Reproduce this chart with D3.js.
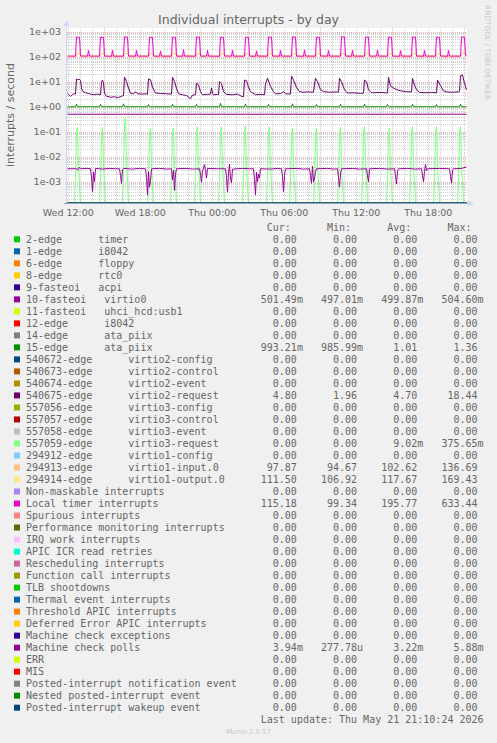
<!DOCTYPE html>
<html><head><meta charset="utf-8">
<script src="https://cdn.jsdelivr.net/npm/d3@7/dist/d3.min.js"></script>
<style>
html,body{margin:0;padding:0;background:#f0f0f0;}
svg{display:block;}
text{font-family:"DejaVu Sans",sans-serif;fill:#666;}
.mono{font-family:"DejaVu Sans Mono",monospace;font-size:10px;white-space:pre;}
</style></head><body>
<svg id="c" width="497" height="743"></svg>
<script>
// ---------- DATA ----------
const title = "Individual interrupts - by day";
const yTitle = "interrupts / second";
const yTickValues = [1e-3, 1e-2, 1e-1, 1, 10, 100, 1000];
const yTickLabels = ["1e-03", "1e-02", "1e-01", "1e+00", "1e+01", "1e+02", "1e+03"];
const xTickTimes = ["2026-05-20T12:00", "2026-05-20T18:00", "2026-05-21T00:00", "2026-05-21T06:00", "2026-05-21T12:00", "2026-05-21T18:00"];
const xTickLabels = ["Wed 12:00", "Wed 18:00", "Thu 00:00", "Thu 06:00", "Thu 12:00", "Thu 18:00"];
const startTime = "2026-05-20T11:56"; // first 5-minute sample
const sampleMinutes = 5;
const sampleCount = 400;

const labels = ["2-edge      timer", "1-edge      i8042", "6-edge      floppy", "8-edge      rtc0", "9-fasteoi   acpi", "10-fasteoi   virtio0", "11-fasteoi   uhci_hcd:usb1", "12-edge      i8042", "14-edge      ata_piix", "15-edge      ata_piix", "540672-edge      virtio2-config", "540673-edge      virtio2-control", "540674-edge      virtio2-event", "540675-edge      virtio2-request", "557056-edge      virtio3-config", "557057-edge      virtio3-control", "557058-edge      virtio3-event", "557059-edge      virtio3-request", "294912-edge      virtio1-config", "294913-edge      virtio1-input.0", "294914-edge      virtio1-output.0", "Non-maskable interrupts", "Local timer interrupts", "Spurious interrupts", "Performance monitoring interrupts", "IRQ work interrupts", "APIC ICR read retries", "Rescheduling interrupts", "Function call interrupts", "TLB shootdowns", "Thermal event interrupts", "Threshold APIC interrupts", "Deferred Error APIC interrupts", "Machine check exceptions", "Machine check polls", "ERR", "MIS", "Posted-interrupt notification event", "Nested posted-interrupt event", "Posted-interrupt wakeup event"];
const colors = ["#00CC00", "#0066B3", "#FF8000", "#FFCC00", "#330099", "#990099", "#CCFF00", "#FF0000", "#808080", "#008F00", "#00487D", "#B35A00", "#B38F00", "#6B006B", "#8FB300", "#B30000", "#BEBEBE", "#80FF80", "#80C9FF", "#FFC080", "#FFE680", "#AA80FF", "#EE00CC", "#FF8080", "#666600", "#FFBFFF", "#00FFCC", "#CC6699", "#999900", "#00CC00", "#0066B3", "#FF8000", "#FFCC00", "#330099", "#990099", "#CCFF00", "#FF0000", "#808080", "#008F00", "#00487D"];
const curVals = [0,0,0,0,0,0.50149,0,0,0,0.99321,0,0,0,4.80,0,0,0,0,0,97.87,111.50,0,115.18,0,0,0,0,0,0,0,0,0,0,0,0.00394,0,0,0,0,0];
const minVals = [0,0,0,0,0,0.49701,0,0,0,0.98599,0,0,0,1.96,0,0,0,0,0,94.67,106.92,0,99.34,0,0,0,0,0,0,0,0,0,0,0,0.00027778,0,0,0,0,0];
const avgVals = [0,0,0,0,0,0.49987,0,0,0,1.01,0,0,0,4.70,0,0,0,0.00902,0,102.62,117.67,0,195.77,0,0,0,0,0,0,0,0,0,0,0,0.00322,0,0,0,0,0];
const maxVals = [0,0,0,0,0,0.50460,0,0,0,1.36,0,0,0,18.44,0,0,0,0.37565,0,136.69,169.43,0,633.44,0,0,0,0,0,0,0,0,0,0,0,0.00588,0,0,0,0,0];
const lastUpdate = "Last update: Thu May 21 21:10:24 2026";

// series values: [sample index (5 min steps from startTime), value]
const flatZero = [[0,0],[399,0]];
const virtio0 = [[0,0.4995],[100,0.5],[200,0.4998],[300,0.5002],[399,0.5015]];
const ataPiix15 = [[0,0.99],[8,0.99],[9,1.28],[10,1.0],[32,0.99],[33,1.25],[34,1.0],[55,0.99],[56,1.3],[57,1.0],[80,0.99],[81,1.22],[82,0.99],[104,0.99],[105,1.25],[106,1.0],[128,0.99],[129,1.24],[130,0.99],[152,0.99],[153,1.36],[154,1.0],[177,0.99],[178,1.26],[179,0.99],[200,0.99],[201,1.24],[202,1.0],[224,0.99],[225,1.3],[226,0.99],[248,0.99],[249,1.22],[250,1.0],[272,0.99],[273,1.25],[274,0.99],[296,0.99],[297,1.28],[298,1.0],[319,0.99],[320,1.24],[321,0.99],[344,0.99],[345,1.25],[346,1.0],[368,0.99],[369,1.22],[370,0.99],[392,0.99],[393,1.26],[394,1.0],[399,0.993]];
const virtio2Request = [[0,3.4],[3,2.6],[6,3.3],[8,3.2],[9,13],[10,12],[12,12.5],[13,11],[14,5.6],[15,4.2],[18,3.6],[22,3.3],[26,3.0],[30,3.2],[33,3.0],[34,10],[35,11.6],[36,9],[37,3.5],[39,2.6],[43,2.4],[47,2.5],[50,2.3],[54,2.6],[56,2.8],[57,15],[58,13],[59,10],[61,5.6],[63,3.5],[66,3.2],[68,4.0],[70,3.3],[75,3.2],[79,3.3],[80,3.1],[81,13],[83,12],[85,6],[88,3.5],[93,3.4],[98,3.3],[104,3.2],[105,15],[107,10],[109,5.5],[111,3.3],[115,3.0],[119,2.8],[123,2.1],[125,2.9],[128,3.0],[129,8.6],[131,7.5],[133,4.0],[135,3.0],[140,3.1],[143,3.2],[144,5.6],[145,3.5],[146,3.0],[150,3.1],[151,3.0],[152,10],[154,8.5],[156,4.0],[159,3.1],[165,3.0],[170,3.2],[174,2.6],[176,2.5],[177,11.6],[179,11],[181,6],[183,4.0],[188,3.0],[193,3.1],[197,3.0],[198,8],[200,13.7],[203,6.5],[206,4.0],[208,3.3],[213,3.3],[216,4.0],[218,3.3],[223,3.2],[224,16.6],[226,11.6],[229,6],[232,4.0],[235,3.8],[240,3.9],[246,3.8],[247,8],[248,13.7],[250,10],[253,4.8],[256,4.0],[262,3.8],[268,3.9],[271,3.8],[272,13.7],[274,10],[277,4.8],[280,3.5],[287,3.6],[293,3.4],[296,3.5],[297,11.6],[299,10],[301,4.8],[304,3.6],[312,3.7],[318,3.6],[320,3.5],[321,15],[323,6.8],[326,5.6],[330,4.6],[335,4.2],[338,4.0],[344,3.9],[345,13.7],[347,7.3],[349,4.8],[352,3.7],[358,3.6],[364,3.7],[369,3.6],[370,11.6],[373,7],[376,4.3],[379,3.9],[385,3.8],[391,3.9],[392,4.0],[393,17.4],[395,18.44],[397,8.5],[399,4.8]];
const virtio3Request = [[0,0],[7,0],[8,0.0015],[9,0.09],[10,0.15],[11,0.004],[12,0.0008],[13,0],[32,0],[33,0.0012],[34,0.08],[35,0.15],[36,0.005],[37,0.0009],[38,0],[55,0],[56,0.002],[57,0.2],[58,0.376],[59,0.006],[60,0.001],[61,0],[80,0],[81,0.0014],[82,0.08],[83,0.14],[84,0.004],[85,0.0007],[86,0],[103,0],[104,0.0015],[105,0.09],[106,0.14],[107,0.003],[108,0.0008],[109,0],[127,0],[128,0.0016],[129,0.1],[130,0.16],[131,0.004],[132,0.0009],[133,0],[151,0],[152,0.0013],[153,0.09],[154,0.16],[155,0.005],[156,0.0008],[157,0],[175,0],[176,0.0015],[177,0.1],[178,0.17],[179,0.004],[180,0.0007],[181,0],[199,0],[200,0.0014],[201,0.09],[202,0.16],[203,0.004],[204,0.0008],[205,0],[222,0],[223,0.0012],[224,0.08],[225,0.14],[226,0.003],[227,0.0008],[228,0],[246,0],[247,0.0015],[248,0.08],[249,0.14],[250,0.004],[251,0.0009],[252,0],[270,0],[271,0.0014],[272,0.09],[273,0.15],[274,0.004],[275,0.0008],[276,0],[294,0],[295,0.0016],[296,0.1],[297,0.16],[298,0.005],[299,0.0008],[300,0],[319,0],[320,0.0013],[321,0.08],[322,0.14],[323,0.004],[324,0.0007],[325,0],[342,0],[343,0.0015],[344,0.1],[345,0.16],[346,0.004],[347,0.0008],[348,0],[366,0],[367,0.0014],[368,0.1],[369,0.16],[370,0.004],[371,0.0009],[372,0],[390,0],[391,0.0015],[392,0.1],[393,0.16],[394,0.004],[395,0.0008],[396,0],[399,0]];
const virtio1Input = [[0,98],[8,98],[9,125],[12,132],[14,98],[32,98],[33,124],[36,130],[38,98],[56,99],[57,128],[60,136.7],[62,98],[81,98],[82,125],[85,131],[87,98],[104,98],[105,126],[108,130],[110,99],[128,98],[129,125],[132,133],[134,98],[152,99],[153,124],[156,131],[158,98],[177,98],[178,125],[181,130],[183,99],[200,98],[201,126],[204,132],[206,98],[224,99],[225,125],[228,131],[230,98],[248,98],[249,124],[252,130],[254,99],[273,98],[274,128],[277,134],[279,98],[297,99],[298,125],[301,131],[303,98],[320,98],[321,125],[324,130],[326,98],[344,98],[345,126],[348,132],[350,99],[368,99],[369,125],[372,131],[374,98],[393,98],[394,125],[397,131],[399,97.9]];
const virtio1Output = [[0,111],[8,111],[9,150],[12,162],[14,112],[32,111],[33,148],[36,158],[38,111],[56,112],[57,155],[60,169.4],[62,112],[81,111],[82,150],[85,160],[87,111],[104,111],[105,152],[108,158],[110,112],[128,111],[129,150],[132,162],[134,111],[152,112],[153,148],[156,160],[158,111],[177,111],[178,150],[181,158],[183,112],[200,111],[201,152],[204,162],[206,111],[224,112],[225,150],[228,160],[230,111],[248,111],[249,148],[252,158],[254,112],[273,111],[274,155],[277,165],[279,111],[297,112],[298,150],[301,160],[303,111],[320,111],[321,150],[324,158],[326,111],[344,111],[345,152],[348,162],[350,112],[368,112],[369,150],[372,160],[374,111],[393,111],[394,150],[397,160],[399,111.5]];
const localTimer = [[0,106],[8,105],[9,610],[12,590],[13,107],[20,105],[21,178],[22,106],[32,105],[33,600],[36,585],[37,106],[44,104],[45,185],[46,105],[56,105],[57,620],[60,600],[61,106],[68,105],[69,180],[70,106],[81,105],[82,595],[85,585],[86,106],[92,104],[93,170],[94,105],[104,105],[105,605],[108,595],[109,106],[115,104],[116,190],[117,106],[128,105],[129,615],[132,600],[133,106],[139,105],[140,178],[141,106],[152,104],[153,600],[156,590],[157,107],[164,105],[165,185],[166,105],[177,105],[178,595],[181,590],[182,106],[188,104],[189,172],[190,106],[200,105],[201,610],[204,600],[205,106],[212,105],[213,180],[214,106],[224,105],[225,620],[228,605],[229,106],[236,104],[237,188],[238,106],[248,105],[249,600],[252,590],[253,107],[260,105],[261,176],[262,106],[273,105],[274,633],[277,610],[278,106],[284,104],[285,182],[286,106],[297,105],[298,605],[301,595],[302,106],[309,105],[310,186],[311,106],[320,105],[321,600],[324,590],[325,106],[332,104],[333,174],[334,106],[344,105],[345,615],[348,600],[349,106],[356,105],[357,180],[358,106],[368,105],[369,600],[372,590],[373,107],[380,104],[381,178],[382,106],[393,105],[394,610],[397,600],[398,114],[399,115]];
const mcePolls = [[0,3.3e-3],[8,3.3e-3],[11,3.1e-3],[12,3.8e-3],[13,3.3e-3],[20,3.4e-3],[23,3.3e-3],[24,1.6e-3],[25,4.0e-4],[26,2.4e-3],[27,1.0e-3],[28,3.4e-3],[35,3.2e-3],[42,3.4e-3],[48,3.3e-3],[52,3.3e-3],[53,1.8e-3],[54,8.5e-4],[55,3.0e-3],[56,3.4e-3],[64,3.2e-3],[72,3.4e-3],[78,3.3e-3],[79,1.5e-3],[80,2.9e-4],[81,2.5e-3],[82,6.0e-4],[83,1.1e-3],[84,3.3e-3],[92,3.4e-3],[100,3.2e-3],[104,3.3e-3],[105,1.2e-3],[106,2.8e-3],[107,4.5e-4],[108,2.0e-3],[109,3.3e-3],[118,3.4e-3],[126,3.2e-3],[132,3.3e-3],[133,2.0e-3],[134,9.5e-4],[135,2.6e-3],[137,4.8e-3],[138,2.8e-3],[139,1.4e-3],[140,3.4e-3],[150,3.3e-3],[158,3.3e-3],[159,1.5e-3],[160,3.8e-4],[161,2.2e-3],[162,5.0e-3],[163,1.3e-3],[164,9.0e-4],[165,3.2e-3],[175,3.4e-3],[182,3.3e-3],[186,3.3e-3],[187,1.2e-3],[188,3.0e-4],[189,2.4e-3],[190,1.0e-3],[191,2.0e-3],[192,1.4e-3],[193,3.3e-3],[203,3.2e-3],[210,3.4e-3],[214,3.3e-3],[215,1.6e-3],[216,4.0e-4],[217,1.8e-3],[218,3.3e-3],[230,3.4e-3],[236,3.2e-3],[242,3.3e-3],[243,1.8e-3],[244,8.5e-4],[245,4.2e-3],[246,1.0e-3],[247,1.3e-3],[248,2.4e-3],[249,3.3e-3],[260,3.4e-3],[266,3.2e-3],[270,3.3e-3],[271,1.5e-3],[272,6.0e-4],[273,2.0e-3],[274,3.3e-3],[285,3.4e-3],[292,3.2e-3],[299,3.3e-3],[300,1.7e-3],[301,1.0e-3],[302,3.3e-3],[312,3.4e-3],[320,3.2e-3],[327,3.3e-3],[328,1.6e-3],[329,8.2e-4],[330,2.6e-3],[331,3.3e-3],[340,3.4e-3],[348,3.2e-3],[354,3.3e-3],[355,1.8e-3],[356,1.0e-3],[357,2.6e-3],[358,4.9e-3],[359,2.8e-3],[360,3.3e-3],[372,3.4e-3],[382,3.3e-3],[383,1.6e-3],[384,9.0e-4],[385,2.8e-3],[386,3.3e-3],[394,3.4e-3],[399,3.9e-3]];

// map legend index -> series values (all others are zero)
const seriesByIndex = {5: virtio0, 9: ataPiix15, 13: virtio2Request, 17: virtio3Request, 19: virtio1Input, 20: virtio1Output, 22: localTimer, 34: mcePolls};

// ---------- DRAWING ----------
const svg = d3.select("#c");
const L = 67, R = 467, T = 28, B = 203;
const t0 = new Date(startTime);
const tAt = s => new Date(+t0 + s * sampleMinutes * 60000);
const x = d3.scaleTime().domain([t0, tAt(sampleCount)]).range([L, R]);
const y = d3.scaleLog().domain([Math.pow(10, -3.852), Math.pow(10, 3.148)]).range([B, T]);
const yMin = y.domain()[0];

svg.append("rect").attr("x", 0).attr("y", 0).attr("width", 497).attr("height", 743).attr("fill", "#f0f0f0");
svg.append("rect").attr("x", L).attr("y", T).attr("width", R - L).attr("height", B - T).attr("fill", "#fff");

// grid
const g = svg.append("g");
const minorY = [];
for (let n = -4; n <= 3; n++) for (let k = 2; k <= 9; k++) { const v = k * Math.pow(10, n); if (v > yMin && v < y.domain()[1]) minorY.push(v); }
g.selectAll(".hmin").data(minorY).join("line")
  .attr("x1", L).attr("x2", R).attr("y1", d => Math.round(y(d)) + 0.5).attr("y2", d => Math.round(y(d)) + 0.5)
  .attr("stroke", "#cfcfcf").attr("stroke-dasharray", "1,1");
const hours = d3.timeHour.every(1).range(t0, tAt(sampleCount));
g.selectAll(".vmin").data(hours).join("line")
  .attr("x1", d => Math.round(x(d)) + 0.5).attr("x2", d => Math.round(x(d)) + 0.5).attr("y1", T).attr("y2", B)
  .attr("stroke", "#cfcfcf").attr("stroke-dasharray", "1,1");
g.selectAll(".hmaj").data(yTickValues).join("line")
  .attr("x1", L).attr("x2", R).attr("y1", d => Math.round(y(d)) + 0.5).attr("y2", d => Math.round(y(d)) + 0.5)
  .attr("stroke", "#ebb4b4").attr("stroke-dasharray", "1,1");
const majorX = hours.filter(d => d.getHours() % 6 === 3);
g.selectAll(".vmaj").data(majorX).join("line")
  .attr("x1", d => Math.round(x(d)) + 0.5).attr("x2", d => Math.round(x(d)) + 0.5).attr("y1", T).attr("y2", B)
  .attr("stroke", "#ebb4b4").attr("stroke-dasharray", "1,1");

// series
svg.append("clipPath").attr("id", "clip").append("rect").attr("x", L).attr("y", T).attr("width", R - L).attr("height", B - T + 0.5);
const line = d3.line().x(d => x(tAt(d[0])) + 0.5).y(d => y(Math.max(d[1], yMin)));
const sg = svg.append("g").attr("clip-path", "url(#clip)");
labels.forEach((lab, i) => {
  const data = seriesByIndex[i] || flatZero;
  sg.append("path").attr("d", line(data)).attr("fill", "none").attr("stroke", colors[i]).attr("stroke-width", 1);
});

// axes
const axisCol = "#CFD6F8";
svg.append("line").attr("x1", L - 0.5).attr("x2", L - 0.5).attr("y1", T - 3).attr("y2", B + 1).attr("stroke", axisCol);
svg.append("line").attr("x1", L - 3).attr("x2", R + 2).attr("y1", B + 0.5).attr("y2", B + 0.5).attr("stroke", "#8ea6d8");
svg.append("path").attr("d", `M${L - 3.5},${T - 2} L${L + 2.5},${T - 2} L${L - 0.5},${T - 8} Z`).attr("fill", axisCol);
svg.append("path").attr("d", `M${R + 1},${B - 2.5} L${R + 1},${B + 3.5} L${R + 7},${B + 0.5} Z`).attr("fill", axisCol);

// y tick labels
svg.selectAll(".ytl").data(yTickValues).join("text")
  .attr("x", 61).attr("y", d => y(d) + 3.4).attr("text-anchor", "end").attr("font-size", "9.5px")
  .text((d, i) => yTickLabels[i]);
// x tick labels
svg.selectAll(".xtl").data(xTickTimes).join("text")
  .attr("x", d => x(new Date(d)) + 0.5).attr("y", 215.5).attr("text-anchor", "middle").attr("font-size", "9.5px")
  .text((d, i) => xTickLabels[i]);

// titles
svg.append("text").attr("x", 248.5).attr("y", 23.5).attr("text-anchor", "middle").attr("font-size", "12.5px").text(title);
svg.append("text").attr("transform", "translate(14,115) rotate(-90)").attr("text-anchor", "middle").attr("font-size", "11px").text(yTitle);
svg.append("text").attr("transform", "translate(484.5,5) rotate(90)").attr("font-size", "7.4px").style("fill", "#c8c8c8").text("RRDTOOL / TOBI OETIKER");

// legend
const cw = 6.02, lx = 26, row0 = 227.3, rh = 12.01;
const fmt = v => {
  if (v === 0) return "  0.00 ";
  let u = " ", m = 1;
  if (Math.abs(v) < 1e-3) { u = "u"; m = 1e6; } else if (Math.abs(v) < 1) { u = "m"; m = 1e3; }
  return (v * m).toFixed(2).padStart(6) + u;
};
const mono = (tx, ty, s, anchor) => svg.append("text").attr("class", "mono").attr("xml:space", "preserve")
  .attr("x", tx).attr("y", ty).attr("text-anchor", anchor || "start").text(s);
["Cur:", "Min:", "Avg:", "Max:"].forEach((h, k) => mono(lx + (40 + 10 * k) * cw, row0 + 3.6, h));
labels.forEach((lab, i) => {
  const cy = row0 + rh * (i + 1);
  svg.append("rect").attr("x", 14).attr("y", cy - 3).attr("width", 6).attr("height", 6).attr("fill", colors[i]);
  mono(lx, cy + 3.6, lab);
  [curVals, minVals, avgVals, maxVals].forEach((arr, k) => mono(lx + (39 + 10 * k) * cw, cy + 3.6, fmt(arr[i])));
});
mono(lx + 39 * cw, row0 + rh * 41 + 3.6, lastUpdate);
svg.append("text").attr("x", 248.5).attr("y", 733.5).attr("text-anchor", "middle").attr("font-size", "6.8px").style("fill", "#c8c8c8").text("Munin 2.0.57");
</script>
</body></html>
